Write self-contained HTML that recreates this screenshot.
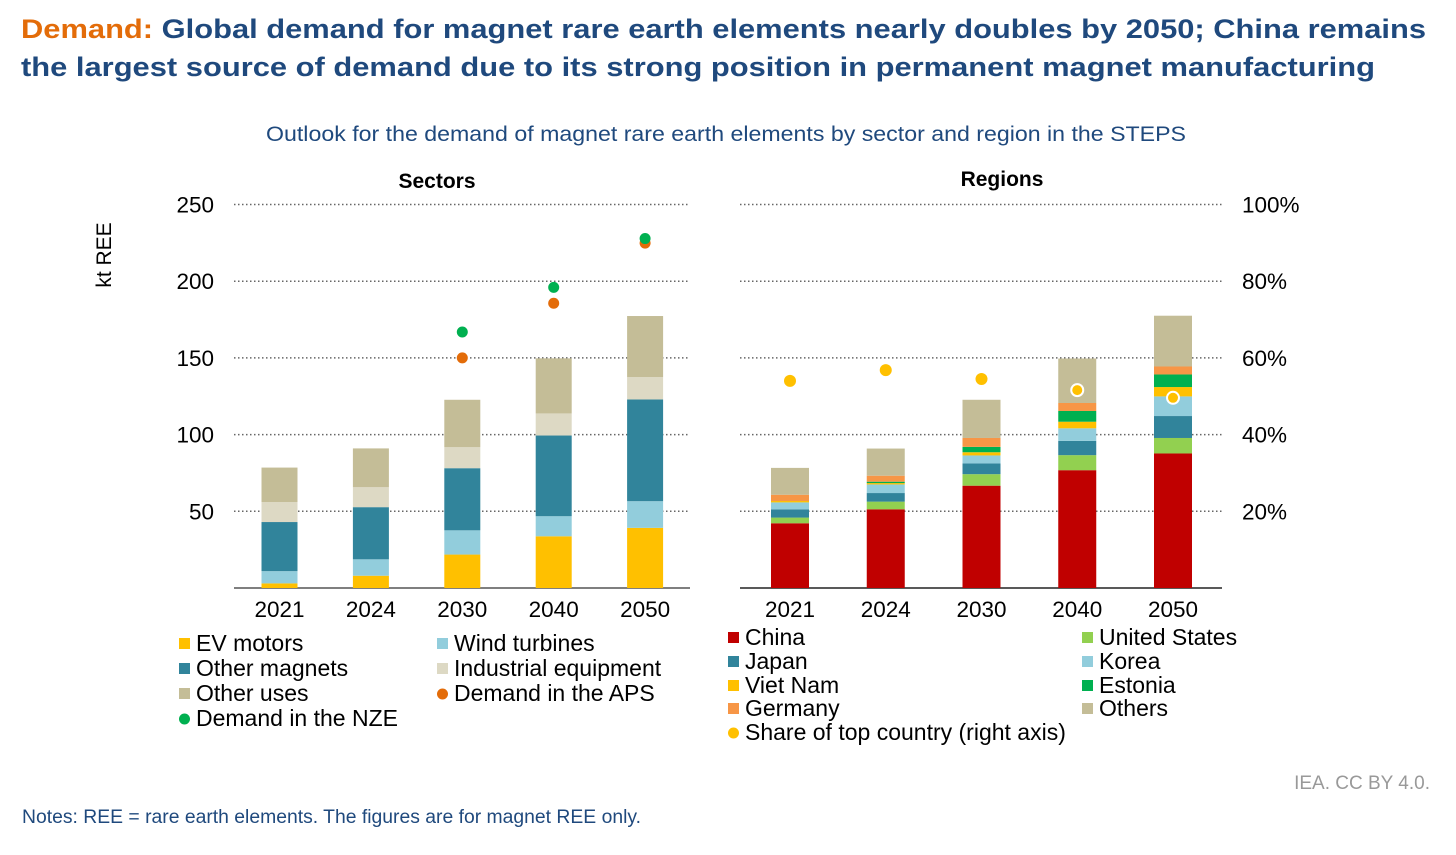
<!DOCTYPE html>
<html><head><meta charset="utf-8"><style>
html,body{margin:0;padding:0;background:#fff;}
svg{display:block;font-family:"Liberation Sans",Arial,sans-serif;}
</style></head><body>
<svg id="chart" width="1456" height="855" viewBox="0 0 1456 855">
<text x="21" y="38" font-size="27" font-weight="bold" fill="#1f497d" textLength="1405" lengthAdjust="spacingAndGlyphs"><tspan fill="#e36c09">Demand:</tspan> Global demand for magnet rare earth elements nearly doubles by 2050; China remains</text>
<text x="21" y="76" font-size="27" font-weight="bold" fill="#1f497d" textLength="1354" lengthAdjust="spacingAndGlyphs">the largest source of demand due to its strong position in permanent magnet manufacturing</text>
<text x="266" y="141" font-size="21" fill="#1f497d" textLength="920" lengthAdjust="spacingAndGlyphs">Outlook for the demand of magnet rare earth elements by sector and region in the STEPS</text>
<text x="437" y="188" font-size="21" font-weight="bold" text-anchor="middle">Sectors</text>
<text x="1002" y="186" font-size="21" font-weight="bold" text-anchor="middle">Regions</text>
<text transform="translate(111,255) rotate(-90)" font-size="21" text-anchor="middle">kt REE</text>
<g id="grid"></g><g id="left"></g><g id="right"></g><g id="legend"></g>
<text x="1430" y="789" font-size="19" fill="#999" text-anchor="end">IEA. CC BY 4.0.</text>
<text x="22" y="823" font-size="19" fill="#1f497d" textLength="619" lengthAdjust="spacingAndGlyphs">Notes: REE = rare earth elements. The figures are for magnet REE only.</text>
</svg>
<script>
const years = ["2021","2024","2030","2040","2050"];
const yTicks = [50,100,150,200,250];
const pctTicks = ["20%","40%","60%","80%","100%"];
const sectorNames = ["EV motors","Wind turbines","Other magnets","Industrial equipment","Other uses"];
const evMotors = [3,8,21.8,33.7,39.2];
const windTurbines = [8,10.7,15.8,13.1,17.4];
const otherMagnets = [32,34,40.5,52.6,66.3];
const industrialEquip = [13,13,13.7,14.4,14.6];
const otherUses = [22.5,25.3,30.9,35.9,39.8];
const demandAPS = [null,null,150,185.6,224.8];
const demandNZE = [null,null,166.9,196,227.8];
const regionNames = ["China","United States","Japan","Korea","Viet Nam","Estonia","Germany","Others"];
const china = [42.2,51.3,66.7,76.8,87.7];
const unitedStates = [3.7,5,7.5,9.8,10.1];
const japan = [5.4,5.6,7,9.3,14.3];
const korea = [4.5,5.6,5.2,8.2,12.8];
const vietNam = [0.9,0.9,2.1,4.3,6.1];
const estonia = [0,0.9,3.5,7,8.2];
const germany = [4.1,3.9,5.8,5.2,5.2];
const others = [17.5,17.7,24.9,29,33.1];
const topShare = [54,56.8,54.5,51.6,49.6];

const NS="http://www.w3.org/2000/svg";
function mk(tag,attrs,parent,text){const e=document.createElementNS(NS,tag);for(const k in attrs)e.setAttribute(k,attrs[k]);if(text!=null)e.textContent=text;parent.appendChild(e);return e;}
const y0=588, pxPer=1.534;
const yS=v=>y0-v*pxPer;
const pS=p=>y0-p*2.5*pxPer;
const leftX=i=>279.5+i*91.4;
const rightX=i=>790+i*95.75;
const grid=document.getElementById('grid');
yTicks.forEach((t,i)=>{
  let l=mk('line',{x1:234,x2:690,y1:yS(t),y2:yS(t),stroke:'#666','stroke-width':1.5,'stroke-dasharray':'1.5 2.5'},grid);
  
  
  let r=mk('line',{x1:740,x2:1222,y1:yS(t),y2:yS(t),stroke:'#666','stroke-width':1.5,'stroke-dasharray':'1.5 2.5'},grid);
  
  
  let a=mk('text',{x:214,y:yS(t)+8,'font-size':22.5,'text-anchor':'end'},grid,String(t));
  
  
  let b=mk('text',{x:1242,y:yS(t)+8,'font-size':22.5},grid,pctTicks[i]);
  
  
});
let ax1=mk('line',{x1:234,x2:690,y1:588,y2:588,stroke:'#555','stroke-width':1.5},grid);


let ax2=mk('line',{x1:740,x2:1222,y1:588,y2:588,stroke:'#222','stroke-width':1.5},grid);



const left=document.getElementById('left');
const secSeries=[evMotors,windTurbines,otherMagnets,industrialEquip,otherUses];
const secColors=['#ffc000','#92cddc','#31849b','#ddd9c4','#c4bd97'];
years.forEach((yr,i)=>{
  let base=0;
  secSeries.forEach((s,k)=>{
    const r=mk('rect',{x:leftX(i)-18,y:yS(base+s[i]),width:36,height:s[i]*pxPer,fill:secColors[k]},left);
    
    
    base+=s[i];
  });
  const t=mk('text',{x:leftX(i),y:617,'font-size':22.5,'text-anchor':'middle'},left,yr);
  
  
  if(demandAPS[i]!=null){
    const c=mk('circle',{cx:leftX(i),cy:yS(demandAPS[i]),r:5.5,fill:'#e36c09'},left);
    
    
  }
  if(demandNZE[i]!=null){
    const c=mk('circle',{cx:leftX(i),cy:yS(demandNZE[i]),r:5.5,fill:'#00b050'},left);
    
    
  }
});

const right=document.getElementById('right');
const regSeries=[china,unitedStates,japan,korea,vietNam,estonia,germany,others];
const regColors=['#c00000','#92d050','#31849b','#92cddc','#ffc000','#00b050','#f79646','#c4bd97'];
years.forEach((yr,i)=>{
  let base=0;
  regSeries.forEach((s,k)=>{
    const r=mk('rect',{x:rightX(i)-19,y:yS(base+s[i]),width:38,height:s[i]*pxPer,fill:regColors[k]},right);
    
    
    base+=s[i];
  });
  const t=mk('text',{x:rightX(i),y:617,'font-size':22.5,'text-anchor':'middle'},right,yr);
  
  
  const c=mk('circle',{cx:rightX(i),cy:pS(topShare[i]),r:6,fill:'#ffc000',stroke:i>=3?'#fff':'none','stroke-width':2},right);
  
  
});

const lg=document.getElementById('legend');
function entry(x,y,label,color,shape){
  if(shape==='c'){const c=mk('circle',{cx:x+5.5,cy:y-7,r:5.5,fill:color},lg);}
  else{const r=mk('rect',{x:x,y:y-13,width:11,height:11,fill:color},lg);}
  const t=mk('text',{x:x+17,y:y,'font-size':23},lg,label);
  
  
}
entry(179,651,'EV motors','#ffc000');
entry(179,676,'Other magnets','#31849b');
entry(179,701,'Other uses','#c4bd97');
entry(179,726,'Demand in the NZE','#00b050','c');
entry(437,651,'Wind turbines','#92cddc');
entry(437,676,'Industrial equipment','#ddd9c4');
entry(437,701,'Demand in the APS','#e36c09','c');
entry(728,645,'China','#c00000');
entry(728,669,'Japan','#31849b');
entry(728,693,'Viet Nam','#ffc000');
entry(728,716,'Germany','#f79646');
entry(728,740,'Share of top country (right axis)','#ffc000','c');
entry(1082,645,'United States','#92d050');
entry(1082,669,'Korea','#92cddc');
entry(1082,693,'Estonia','#00b050');
entry(1082,716,'Others','#c4bd97');
</script>
</body></html>
